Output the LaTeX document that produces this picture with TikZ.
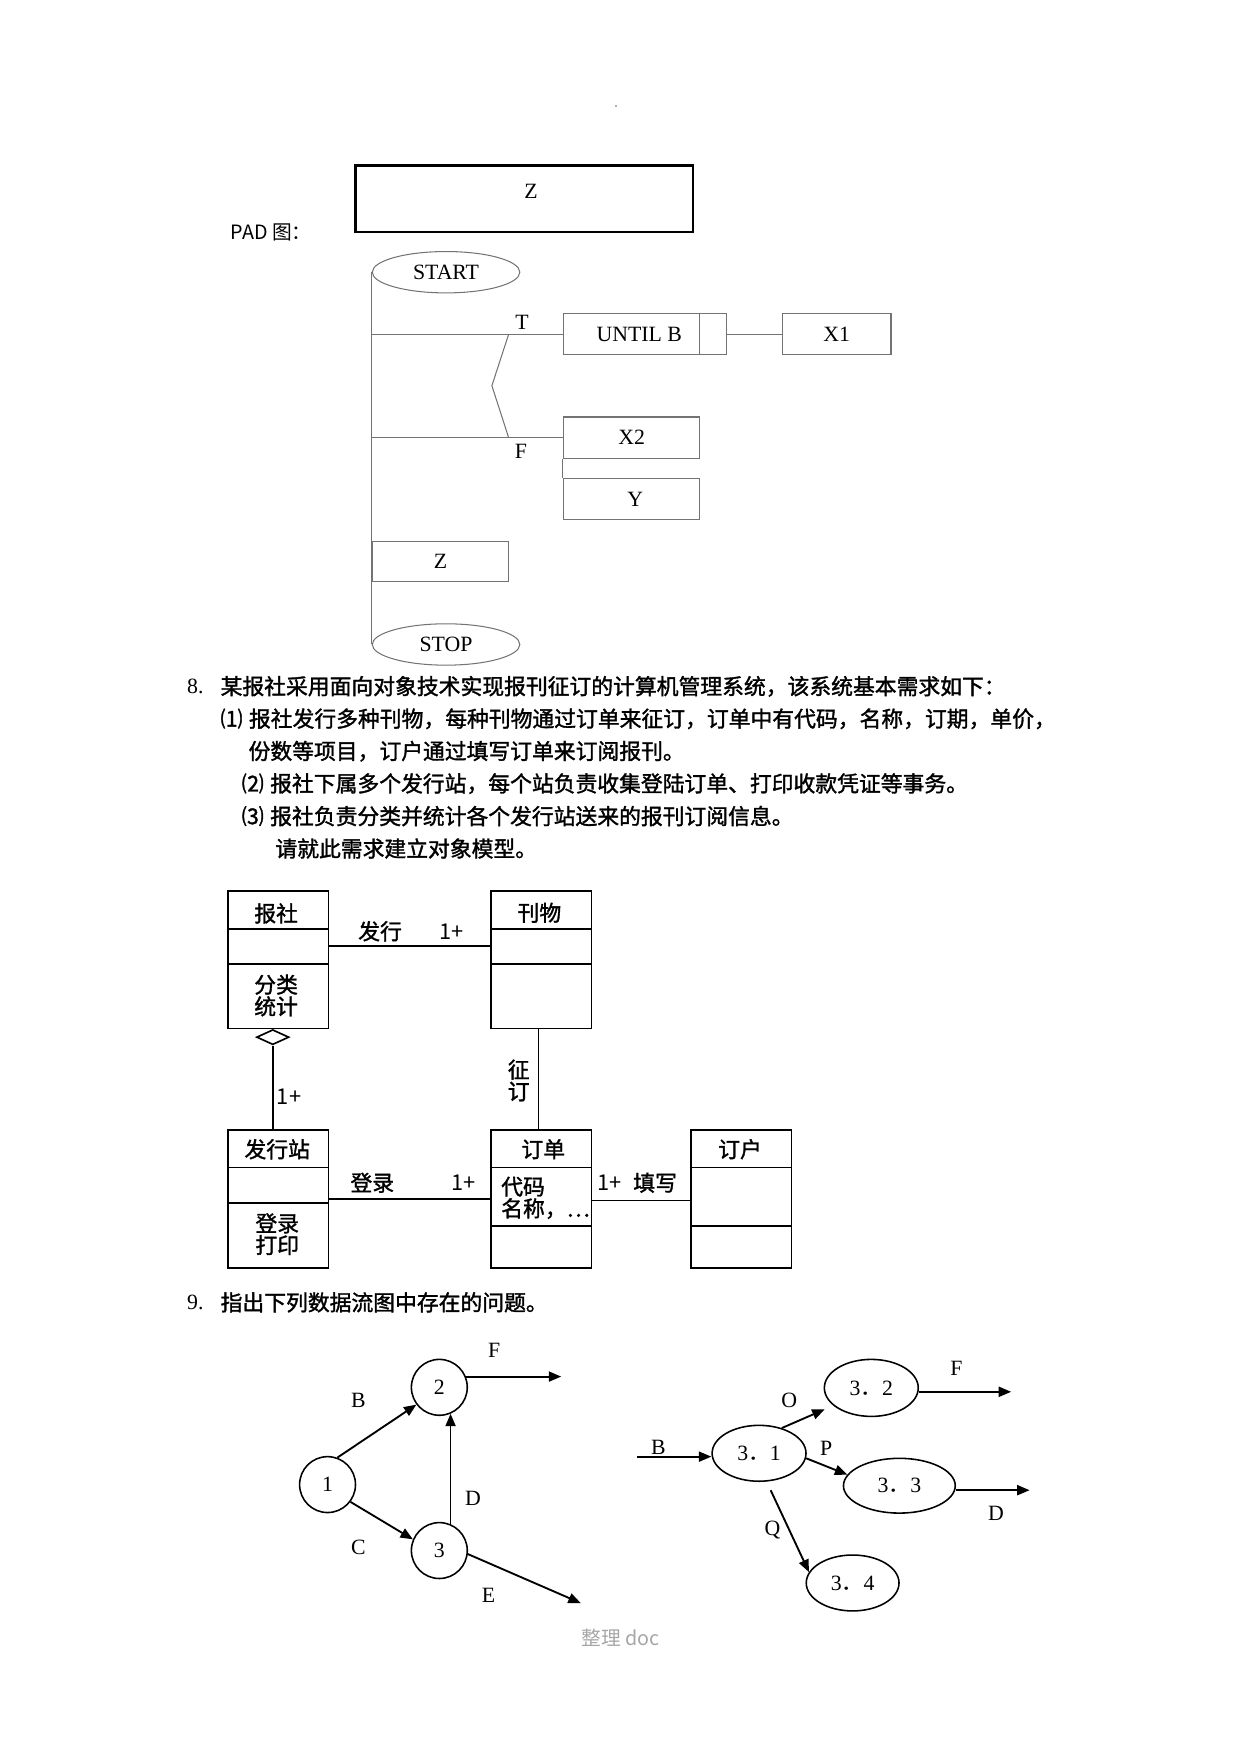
\documentclass[tikz,border=0pt]{standalone}
\usepackage{fontspec}
\setmainfont{Liberation Serif}
\newfontfamily\cjk{Noto Sans CJK SC}
\newfontfamily\cjkb[FakeBold=1.5]{Noto Sans CJK SC}
\usetikzlibrary{positioning,calc,arrows.meta,shapes.geometric}
\def\px{0.18919mm}
\begin{document}
\begin{tikzpicture}
            [
                x=\px, y=-\px,
                padline/.style = {draw=black!55, line width=0.5pt},
                padbox/.style = {padline, rectangle, minimum height=37*\px, inner sep=0pt, font=\fontsize{10.5}{12}\selectfont},
                padend/.style = {padline, ellipse, minimum width=132*\px, minimum height=37*\px, inner sep=0pt, font=\fontsize{10.5}{12}\selectfont},
                para/.style = {anchor=west, inner sep=0pt, font=\cjkb\fontsize{10.5}{12}\selectfont},
                cls/.style = {draw, line width=0.8pt, rectangle, minimum width=90*\px, minimum height=123*\px, inner sep=0pt},
                txt/.style = {inner sep=0pt, align=center, font=\cjkb\fontsize{10.5}{10.5}\selectfont},
                bubble/.style = {draw, line width=0.75pt, circle, minimum size=50*\px, inner sep=0pt, font=\fontsize{10.5}{12}\selectfont},
                proc/.style = {draw, line width=0.75pt, ellipse, minimum height=50*\px, minimum width=84*\px, inner sep=0pt, font=\fontsize{10.5}{12}\selectfont},
                flow/.style = {-{Triangle[length=2.1mm, width=1.7mm]}, line width=0.9pt},
                lbl/.style = {inner sep=0pt, font=\fontsize{10.5}{12}\selectfont}
            ]
            \useasboundingbox (0,0) rectangle (1110,1569);
            \fill[black!30] (550,94) rectangle (552,96);
            % PAD
            \node[draw, line width=1.2pt, minimum width=302*\px, minimum height=59.5*\px] (ztop) at (469,177.75) {};
            \node[lbl] (zt) at (475,171) {Z};
            \node[para, font=\cjk\fontsize{9.5}{12}\selectfont] (padtitle) at (206,208) {PAD 图：};
            \node[padend] (start) at (399,243.5) {START};
            \node[padend] (stop) at (399,576.5) {STOP};
            \node[padbox, minimum width=122*\px] (untilb) at (565,299) {\hspace*{2.6mm}UNTIL B};
            \node[padbox, minimum width=24*\px] (untilend) at (638,299) {};
            \node[padbox, minimum width=97*\px] (x1) at (748.5,299) {X1};
            \node[padbox, minimum width=122*\px] (x2) at (565,391.5) {X2};
            \node[padbox, minimum width=122*\px] (yb) at (565,446.5) {\hspace*{1.2mm}Y};
            \node[padbox, minimum width=122*\px, minimum height=36*\px] (zlow) at (394,502) {Z};
            \coordinate (tb) at (455,299);
            \coordinate (zz) at (440,345);
            \coordinate (fb) at (455,391.5);
            \draw[padline] (start.west) -- (stop.west);
            \draw[padline] (start.west |- untilb.west) -- (untilb.west);
            \draw[padline] (start.west |- x2.west) -- (x2.west);
            \draw[padline] (tb) -- (zz) -- (fb);
            \draw[padline] (untilend.east) -- (x1.west);
            \draw[padline] (x2.south west) -- (yb.north west);
            \node[lbl] (tl) at (467,288) {T};
            \node[lbl] (fl) at (466,404) {F};
            % question 8
            \node[para, font=\fontsize{10.5}{12}\selectfont] (n8) at (167,614) {8.};
            \node[para] (l1) at (197,614) {某报社采用面向对象技术实现报刊征订的计算机管理系统，该系统基本需求如下：};
            \node[para] (l2) at (197,643) {\makebox[1.3em][l]{⑴}报社发行多种刊物，每种刊物通过订单来征订，订单中有代码，名称，订期，单价，};
            \node[para] (l3) at (222,672) {份数等项目，订户通过填写订单来订阅报刊。};
            \node[para] (l4) at (216,701) {\makebox[1.3em][l]{⑵}报社下属多个发行站，每个站负责收集登陆订单、打印收款凭证等事务。};
            \node[para] (l5) at (216,730) {\makebox[1.3em][l]{⑶}报社负责分类并统计各个发行站送来的报刊订阅信息。};
            \node[para] (l6) at (246,759) {请就此需求建立对象模型。};
            % object model
            \node[cls] (baoshe) at (249,858.5) {};
            \node[cls] (kanwu) at (484.25,858.5) {};
            \node[cls] (fxz) at (249,1072.5) {};
            \node[cls] (dingdan) at (484.25,1072.5) {};
            \node[cls] (dinghu) at (663,1072.5) {};
            \draw[line width=0.8pt] ($(baoshe.north west)+(0,35)$) -- ($(baoshe.north east)+(0,35)$);
            \draw[line width=0.8pt] ($(baoshe.north west)+(0,66)$) -- ($(baoshe.north east)+(0,66)$);
            \draw[line width=0.8pt] ($(kanwu.north west)+(0,35)$) -- ($(kanwu.north east)+(0,35)$);
            \draw[line width=0.8pt] ($(kanwu.north west)+(0,66)$) -- ($(kanwu.north east)+(0,66)$);
            \draw[line width=0.8pt] ($(fxz.north west)+(0,34)$) -- ($(fxz.north east)+(0,34)$);
            \draw[line width=0.8pt] ($(fxz.north west)+(0,66)$) -- ($(fxz.north east)+(0,66)$);
            \draw[line width=0.8pt] ($(dingdan.north west)+(0,34)$) -- ($(dingdan.north east)+(0,34)$);
            \draw[line width=0.8pt] ($(dingdan.north west)+(0,86.5)$) -- ($(dingdan.north east)+(0,86.5)$);
            \draw[line width=0.8pt] ($(dinghu.north west)+(0,34)$) -- ($(dinghu.north east)+(0,34)$);
            \draw[line width=0.8pt] ($(dinghu.north west)+(0,86.5)$) -- ($(dinghu.north east)+(0,86.5)$);
            \node[txt] (tbs) at (247,817) {报社};
            \node[txt] (obs) at (247,890.5) {分类\\统计};
            \node[txt] (tkw) at (482.5,816.5) {刊物};
            \node[txt] (tfx) at (248,1028) {发行站};
            \node[txt] (ofx) at (248,1104) {登录\\打印};
            \node[txt] (tdd) at (486,1028) {订单};
            \node[txt, anchor=west, align=left] (add) at (448,1071.5) {代码\\名称，…};
            \node[txt] (tdh) at (662,1028) {订户};
            \node[draw, line width=0.8pt, diamond, minimum width=29*\px, minimum height=13.5*\px, inner sep=0pt] (agg) at (244,927.75) {};
            \draw[line width=0.8pt] ($(baoshe.east)+(0,-12)$) -- ($(kanwu.west)+(0,-12)$);
            \draw[line width=0.8pt] (agg.south) -- (agg.south |- fxz.north);
            \draw[line width=0.8pt] ($(kanwu.south)+(-2.5,0)$) -- ($(dingdan.north)+(-2.5,0)$);
            \draw[line width=0.8pt] (fxz.east) -- (dingdan.west);
            \draw[line width=0.8pt] ($(dingdan.east)+(0,1.5)$) -- ($(dinghu.west)+(0,1.5)$);
            \node[txt, font=\cjk\fontsize{10.5}{10.5}\selectfont] (m1) at (404,833) {1+};
            \node[txt, font=\cjk\fontsize{10.5}{10.5}\selectfont] (m2) at (258.6,980.6) {1+};
            \node[txt, font=\cjk\fontsize{10.5}{10.5}\selectfont] (m3) at (414.5,1058) {1+};
            \node[txt, font=\cjk\fontsize{10.5}{10.5}\selectfont] (m4) at (545.5,1058) {1+};
            \node[txt] (fx) at (340,833) {发行};
            \node[txt] (zd) at (464,966.5) {征\\订};
            \node[txt] (dl) at (333,1058) {登录};
            \node[txt] (tx) at (586,1058) {填写};
            % question 9
            \node[para, font=\fontsize{10.5}{12}\selectfont] (n9) at (167,1165) {9.};
            \node[para] (l7) at (197,1165) {指出下列数据流图中存在的问题。};
            % data flow diagrams
            \node[bubble] (c1) at (293,1328) {1};
            \node[bubble] (c2) at (393,1241) {2};
            \node[bubble] (c3) at (393,1387) {3};
            \coordinate (fout) at (502,1231);
            \coordinate (eout) at (519.5,1434);
            \draw[flow] (c1.70) -- (c2.217);
            \draw[flow] (c1.323) -- (c3.157);
            \draw[flow] (c3.67) -- (c2.293);
            \draw[flow] (c2.22) -- (c2.22 -| fout);
            \draw[flow] (c3.353) -- (eout);
            \node[lbl] (lb) at (320.6,1253) {B};
            \node[lbl] (lc) at (320.6,1384) {C};
            \node[lbl] (ld) at (423,1340) {D};
            \node[lbl] (lf) at (442,1208) {F};
            \node[lbl] (le) at (437,1427) {E};
            \node[proc] (e31) at (679,1300) {3{\cjk ．}1};
            \node[proc, minimum height=51*\px] (e32) at (779.4,1241.5) {3{\cjk ．}2};
            \node[proc, minimum width=100*\px, minimum height=49*\px] (e33) at (804.5,1329) {3{\cjk ．}3};
            \node[proc, minimum width=83*\px] (e34) at (762.7,1416) {3{\cjk ．}4};
            \coordinate (bin) at (570,1303);
            \coordinate (fout2) at (904.5,1245);
            \coordinate (dout) at (921,1333);
            \draw[flow] (bin) -- (bin -| e31.west);
            \draw[flow, shorten >=1.6mm] (e31.48) -- (e32.205);
            \draw[flow] (e31.354) -- (e33.168);
            \draw[flow, shorten <=1.6mm] (e31.285) -- (e34.166);
            \draw[flow] (e32.east |- fout2) -- (fout2);
            \draw[flow] (e33.east |- dout) -- (dout);
            \node[lbl] (rb) at (589,1295) {B};
            \node[lbl] (ro) at (706,1253) {O};
            \node[lbl] (rp) at (739,1295.5) {P};
            \node[lbl] (rq) at (691,1369) {Q};
            \node[lbl] (rf) at (855.5,1224) {F};
            \node[lbl] (rd) at (891,1354) {D};
            \node[inner sep=0pt, text=black!35, font=\cjk\fontsize{9.5}{12}\selectfont] (foot) at (555,1465) {整理 doc};
        \end{tikzpicture}
\end{document}
